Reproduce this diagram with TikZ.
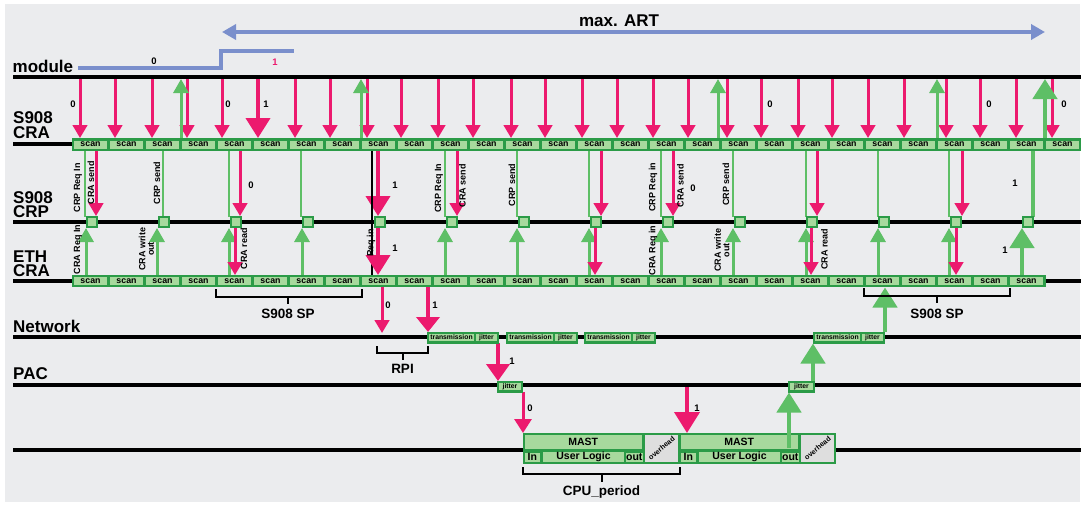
\documentclass[tikz,border=0pt]{standalone}
\usepackage{fontspec}
\setmainfont{Liberation Sans}
\usetikzlibrary{arrows.meta}
\definecolor{bg}{HTML}{EBECEE}
\definecolor{mag}{HTML}{EC1A6E}
\definecolor{ga}{HTML}{5EBF66}
\definecolor{dg}{HTML}{2B9B47}
\definecolor{lg}{HTML}{A7D99D}
\definecolor{blu}{HTML}{7A8FCC}
\definecolor{ovg}{HTML}{DEDEDE}
\newcommand\mynetgrp[2]{%
  \fill[dg] (#1,331.5) rectangle ({#1+72},343.5);
  \node[netc,minimum width=45pt] (#2t) at ({#1+24.5},337.5) {transmission};
  \node[netc,minimum width=21pt] (#2j) at ({#1+59.5},337.5) {jitter};
}
\newcommand\mymastblk[2]{%
  \fill[dg] (#1,433) rectangle ({#1+157},463.5);
  \node[mastc,minimum width=117.5pt,minimum height=14.5pt] (#2m) at ({#1+60.25},442.2) {MAST};
  \node[mastc,minimum width=15.5pt,minimum height=9pt] (#2i) at ({#1+9.25},457.3) {In};
  \node[mastc,minimum width=81pt,minimum height=9pt] (#2u) at ({#1+60.5},457.3) {User Logic};
  \node[mastc,minimum width=16.5pt,minimum height=9pt] (#2o) at ({#1+111.3},457.3) {out};
  \node[fill=ovg,minimum width=33pt,minimum height=26.5pt,inner sep=0pt] (#2h) at ({#1+138.5},448.3) {};
  \node[font=\bfseries\fontsize{7.2}{7.2}\selectfont,inner sep=0pt,rotate=40] at ({#1+138.5},448.3) {overhead};
}
\begin{document}
\begin{tikzpicture}[x=1pt,y=-1pt,
  rowline/.style={line width=4pt},
  rarr/.style={draw=mag,line width=3pt,-{Triangle[length=13pt,width=14.5pt]}},
  rbig/.style={draw=mag,line width=4pt,-{Triangle[length=20pt,width=24pt]}},
  garr/.style={draw=ga,line width=3pt,-{Triangle[length=14pt,width=15pt]}},
  gbig/.style={draw=ga,line width=4.5pt,-{Triangle[length=20pt,width=24pt]}},
  gline/.style={draw=ga,line width=2.5pt},
  num/.style={font=\bfseries\fontsize{9.5}{9.5}\selectfont,inner sep=0pt},
  rot/.style={font=\bfseries\fontsize{9}{8.5}\selectfont,inner sep=0pt,rotate=90,align=center},
  rowlbl/.style={font=\bfseries\fontsize{17}{15}\selectfont,inner sep=0pt,anchor=base west},
  blbl/.style={font=\bfseries\fontsize{13.5}{13.5}\selectfont,inner sep=0pt,anchor=base},
  scan/.style={fill=lg,minimum width=33pt,minimum height=8pt,inner sep=0pt,font=\bfseries\fontsize{8.8}{9}\selectfont},
  crp/.style={draw=dg,line width=2pt,fill=lg,minimum size=10pt,inner sep=0pt},
  netc/.style={fill=lg,minimum height=7.5pt,inner sep=0pt,font=\bfseries\fontsize{6.8}{7}\selectfont},
  mastc/.style={fill=lg,inner sep=0pt,font=\bfseries\fontsize{10.5}{10.5}\selectfont},
  brk/.style={line width=2pt}
]
\useasboundingbox (0,0) rectangle (1084,506);
\fill[white] (0,0) rectangle (1084,506);
\fill[bg] (5,4) rectangle (1080,502);

% max ART
\draw[blu,line width=3.5pt,{Triangle[length=14pt,width=15pt]}-{Triangle[length=14pt,width=15pt]}] (222,32) -- (1045,32);
\node[font=\bfseries\fontsize{17}{17}\selectfont,inner sep=0pt,anchor=base] (art) at (619,27) {max. ART};

% module signal
\draw[blu,line width=3.3pt] (78,68) -- (221,68) -- (221,51) -- (294,51);
\node[num] (m0) at (154,61.5) {0};
\node[num,text=mag] (m1) at (275,62) {1};

% row lines
\foreach \y in {77,222,281,336.5,385,450} \draw[rowline] (13,\y) -- (1081,\y);
\draw[rowline] (13,144) -- (75,144);

% row labels
\node[rowlbl] (lmod) at (12.5,72) {module};
\node[rowlbl] (l1a) at (13,123) {S908};
\node[rowlbl] (l1b) at (13,138) {CRA};
\node[rowlbl] (l2a) at (13,203) {S908};
\node[rowlbl] (l2b) at (13,217.5) {CRP};
\node[rowlbl] (l3a) at (13,262) {ETH};
\node[rowlbl] (l3b) at (13,276) {CRA};
\node[rowlbl] (l4) at (13,332) {Network};
\node[rowlbl] (l5) at (13,379) {PAC};

% module -> S908 CRA arrows
\foreach \x in {80,115,152,187,222,295,330,367,401,438,473,511,545,582,617,653,688,727,761,798,832,868,904,946,980,1016,1052}
  \draw[rarr] (\x,79) -- (\x,138);
\draw[rbig] (258,79) -- (258,138);
\foreach \x in {181,361,718,937} \draw[garr] (\x,138) -- (\x,79);
\draw[gbig] (1045,138) -- (1045,79);
\foreach \x/\t in {73/0,228/0,266/1,770/0,989/0,1064/0} \node[num] at (\x,104) {\t};

% S908 CRA -> CRP
\foreach \x in {85,163,229,301,445,517,589,661,733,806,878,949} \draw[gline] (\x,151) -- (\x,217);
\draw[draw=ga,line width=4.5pt] (1033,151) -- (1033,217);
\foreach \x in {96,240,457,601,673,817,962} \draw[rarr] (\x,151) -- (\x,216);
\draw[rbig] (378,151) -- (378,216);
\draw[line width=2.5pt] (372,151) -- (372,275);

% ETH CRA -> CRP and back
\foreach \x in {86,157,229,302,445,517,589,661,733,806,878,949} \draw[garr] (\x,275) -- (\x,228);
\draw[gbig] (1022,275) -- (1022,228);
\foreach \x in {235,595,811,956} \draw[rarr] (\x,228) -- (\x,275);
\draw[rbig] (378,228) -- (378,275);

% ETH CRA -> Network
\draw[rarr] (382,287) -- (382,333);
\draw[draw=mag,line width=4pt,-{Triangle[length=15pt,width=23pt]}] (428,287) -- (428,332);
\draw[gbig] (885,332) -- (885,287.5);
% Network -> PAC
\draw[draw=mag,line width=4pt,-{Triangle[length=17pt,width=23pt]}] (498,343) -- (498,381);
\draw[gbig] (813,381) -- (813,343.5);
% PAC -> MAST
\draw[draw=mag,line width=3pt,-{Triangle[length=14pt,width=17pt]}] (523,392) -- (523,433);
\draw[draw=mag,line width=4pt,-{Triangle[length=21pt,width=25pt]}] (687,387) -- (687,433);

% strips
\fill[dg] (72,138) rectangle (1081,151);
\foreach \i in {0,...,27} \node[scan] (s\i) at ({90.5+36*\i},144.5) {scan};
\fill[dg] (72,275) rectangle (1046,287);
\foreach \i in {0,...,26} \node[scan] (e\i) at ({90.5+36*\i},281) {scan};

% CRP boxes
\foreach \k in {0,...,13} \node[crp] (c\k) at ({92+72*\k},222) {};

% network boxes
\mynetgrp{427}{na}
\mynetgrp{506}{nb}
\mynetgrp{584}{nc}
\mynetgrp{813}{nd}
% PAC jitter
\fill[dg] (497,381) rectangle (523,392.5);
\node[netc,minimum width=22pt] (pa) at (510,386.7) {jitter};
\fill[dg] (788,381) rectangle (815,392.5);
\node[netc,minimum width=23pt] (pb) at (801.5,386.7) {jitter};

% MAST blocks
\mymastblk{523}{ma}
\mymastblk{679}{mb}
\draw[gbig] (789,448) -- (789,392.5);

% CRP area labels
\node[rot] at (78,187.5) {CRP Req In};
\node[rot] at (91,182.5) {CRA send};
\node[rot] at (78,249.5) {CRA Req In};
\node[rot] at (157,183) {CRP send};
\node[rot] at (146.5,249) {CRA write\\out};
\node[num] at (251,185) {0};
\node[rot] at (244,248.5) {CRA read};
\node[num] at (395,185) {1};
\node[num] at (395,248) {1};
\node[rot] at (371,243) {Req in};
\node[rot] at (439,188) {CRP Req In};
\node[rot] at (462.5,185.5) {CRA send};
\node[rot] at (512,185) {CRP send};
\node[rot] at (653,187) {CRP Req in};
\node[rot] at (680.5,185.5) {CRA send};
\node[num] at (693,188) {0};
\node[rot] at (653,250.5) {CRA Req in};
\node[rot] at (726,184.5) {CRP send};
\node[rot] at (722,250) {CRA write\\out};
\node[rot] at (824.5,249) {CRA read};
\node[num] at (1015,183) {1};
\node[num] at (1005,250) {1};

% bottom labels
\node[num] at (388,305) {0};
\node[num] at (435,305) {1};
\node[num] at (512,361) {1};
\node[num] at (530,408) {0};
\node[num] at (697,408) {1};

% brackets
\draw[brk] (216,289) -- (216,297) -- (362,297) -- (362,289);
\draw[brk] (288,297) -- (288,304);
\node[blbl] (sp1) at (288,318.5) {S908 SP};
\draw[brk] (864,288) -- (864,296) -- (1010,296) -- (1010,288);
\draw[brk] (937,296) -- (937,303);
\node[blbl] (sp2) at (937,318) {S908 SP};
\draw[brk] (377,346) -- (377,353) -- (428,353) -- (428,346);
\draw[brk] (402.5,353) -- (402.5,360);
\node[blbl] (rpi) at (402.5,373.5) {RPI};
\draw[brk] (523,467) -- (523,474) -- (680,474) -- (680,467);
\draw[brk] (601.5,474) -- (601.5,482);
\node[blbl] (cpu) at (601.5,495) {CPU\_period};
\end{tikzpicture}
\end{document}
